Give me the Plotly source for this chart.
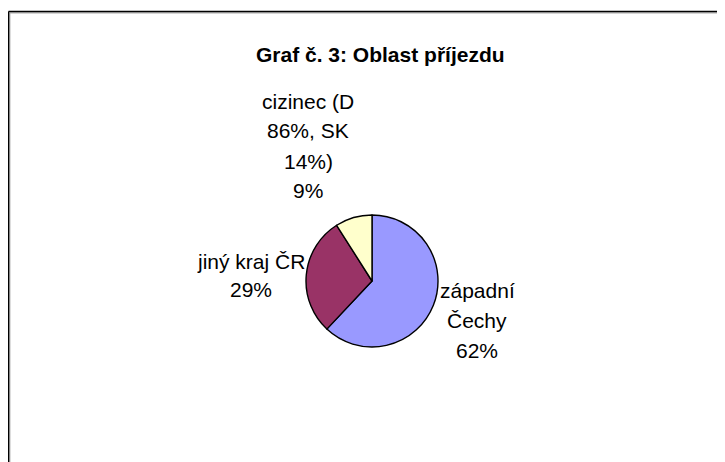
import plotly.graph_objects as go

# --- data ---
categories = ["západní Čechy", "jiný kraj ČR", "cizinec (D 86%, SK 14%)"]
values = [62, 29, 9]
colors = ["#9999FF", "#993366", "#FFFFCC"]
# wrapped label lines as shown in the chart
label_lines = [
    ["západní", "Čechy"],
    ["jiný kraj ČR"],
    ["cizinec (D", "86%, SK", "14%)"],
]
title_text = "Graf č. 3: Oblast příjezdu"

W, H = 725, 462
OX, OY = 8, 8  # page offset (body margin) of the plot div
FONT = "Liberation Sans, Arial, sans-serif"


def px(x):
    return (x - OX) / W


def py(y):
    return 1 - (y - OY) / H


fig = go.Figure()
fig.add_trace(go.Pie(
    labels=categories,
    values=values,
    sort=False,
    direction="clockwise",
    rotation=0,
    marker=dict(colors=colors, line=dict(color="black", width=1.4)),
    textinfo="none",
    hoverinfo="label+percent",
    showlegend=False,
    domain=dict(x=[px(306), px(438)], y=[py(347), py(215)]),
))

# label placement (pixel centres of first line, line spacing)
label_pos = [(477, 289, 30), (251, 260, 28), (308, 100, 30)]
total = sum(values)
annotations = []
for lines, v, (cx, cy, sp) in zip(label_lines, values, label_pos):
    pct = f"{round(100 * v / total)}%"
    all_lines = lines + [pct]
    for i, ln in enumerate(all_lines):
        annotations.append(dict(
            text=ln, x=px(cx), y=py(cy + i * sp + 1),
            xref="paper", yref="paper", xanchor="center", yanchor="middle",
            showarrow=False, font=dict(family=FONT, size=21, color="black"),
        ))

annotations.append(dict(
    text=f"<b>{title_text}</b>", x=px(380), y=py(55),
    xref="paper", yref="paper", xanchor="center", yanchor="middle",
    showarrow=False, font=dict(family=FONT, size=21, color="black"),
))

shapes = [
    # grey shadow lines
    dict(type="line", xref="paper", yref="paper",
         x0=px(9.8), x1=px(9.8), y0=py(480), y1=py(12.8),
         line=dict(color="#AAAAAA", width=1.2)),
    dict(type="line", xref="paper", yref="paper",
         x0=px(9.8), x1=px(760), y0=py(12.8), y1=py(12.8),
         line=dict(color="#AAAAAA", width=1.2)),
    # black frame lines
    dict(type="line", xref="paper", yref="paper",
         x0=px(8.5), x1=px(8.5), y0=py(480), y1=py(11.5),
         line=dict(color="black", width=1.6)),
    dict(type="line", xref="paper", yref="paper",
         x0=px(8.5), x1=px(760), y0=py(11.5), y1=py(11.5),
         line=dict(color="black", width=1.6)),
]

fig.update_layout(
    width=W, height=H,
    margin=dict(l=0, r=0, t=0, b=0),
    paper_bgcolor="white", plot_bgcolor="white",
    annotations=annotations, shapes=shapes,
    font=dict(family=FONT),
)

fig.write_html(
    "out.html",
    post_script="document.documentElement.style.overflow='hidden';"
                "document.body.style.overflow='hidden';",
)
